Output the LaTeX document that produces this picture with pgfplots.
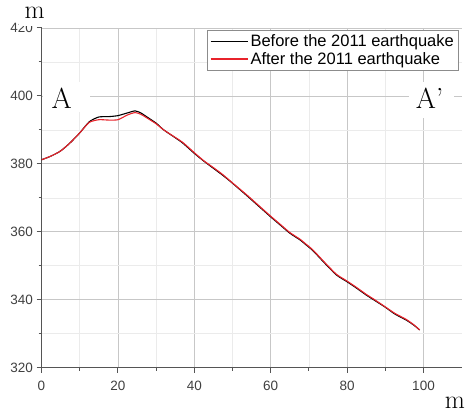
\documentclass[border=0pt]{standalone}
\usepackage{pgfplots}
\pgfplotsset{compat=1.18}
\usepackage{fontspec}
\newfontfamily\sansf{Liberation Sans}
\definecolor{spine}{HTML}{555555}
\definecolor{redline}{HTML}{E8232B}
\begin{document}
\begin{tikzpicture}
\begin{axis}[
  scale only axis,
  width=420.2pt, height=339.7pt,
  xmin=0, xmax=110, ymin=320, ymax=420,
  xtick={0,20,...,100}, ytick={320,340,...,420},
  minor x tick num=1, minor y tick num=1,
  axis x line*=bottom, axis y line*=left,
  axis line style={-, draw=spine, line width=1.3pt},
  tick align=outside,
  major tick length=5pt, minor tick length=3pt,
  every tick/.style={draw=spine, line width=1pt},
  grid=both,
  major grid style={draw=black!22, line width=0.8pt},
  minor grid style={draw=black!8, line width=0.6pt},
  /pgf/number format/assume math mode=true,
  ticklabel style={font=\sansf\fontsize{13.5}{13.5}\selectfont, text=black!75},
  xticklabel style={yshift=-5pt},
  legend style={at={(axis description cs:0.993,0.994)}, anchor=north east,
    draw=black!45, line width=0.8pt, inner sep=2.5pt,
    font=\sansf\fontsize{16.5}{16.5}\selectfont,
    nodes={inner sep=2pt}, cells={anchor=west}},
]
\addlegendimage{legend image code/.code={\draw[draw=black, line width=1.1pt] (0pt,0pt) -- (37pt,0pt);}}
\addlegendentry{Before the 2011 earthquake}
\addlegendimage{legend image code/.code={\draw[draw=redline, line width=1.6pt] (0pt,0pt) -- (37pt,0pt);}}
\addlegendentry{After the 2011 earthquake}
\addplot[forget plot, draw=black, line width=1.1pt, smooth, tension=0.4] coordinates {
(0,381.2) (2.5,382.3) (5,383.8) (7.5,386.2) (10,389.1) (12.5,392.4) (15,393.8)
(17.5,393.9) (20,394.2) (22.5,395.0) (24.5,395.6) (26,395.0) (27.5,393.9)
(30,392.0) (32,390.0) (35,387.7) (37,386.1) (40,383.1) (42.5,380.8) (45,378.7)
(47.5,376.6) (50,374.3) (53.6,370.8) (56,368.4) (60,364.4) (62.5,362.0)
(65,359.6) (67.7,357.6) (69,356.4) (71.1,354.4) (74.2,350.7) (77.2,347.3)
(80,345.3) (82.5,343.4) (85,341.4) (87.5,339.6) (90,337.8) (92.5,335.8)
(95.5,334.0) (97.5,332.5) (99,331.1)};
\addplot[forget plot, draw=redline, line width=1.1pt, smooth, tension=0.4] coordinates {
(0,381.2) (2.5,382.3) (5,383.8) (7.5,386.2) (10,389.1) (12.5,392.2) (15,393.0)
(17.5,392.9) (20,393.0) (22.5,394.4) (24.5,395.1) (26,394.6) (27.5,393.6)
(30,391.8) (32,390.0) (35,387.8) (37,386.3) (40,383.3) (42.5,380.9) (45,378.9)
(47.5,376.8) (50,374.4) (53.6,371.0) (56,368.6) (60,364.6) (62.5,362.2)
(65,359.8) (67.7,357.8) (69,356.6) (71.1,354.6) (74.2,350.9) (77.2,347.5)
(80,345.5) (82.5,343.6) (85,341.6) (87.5,339.8) (90,337.9) (92.5,336.0)
(95.5,334.2) (97.5,332.6) (99,331.1)};
\fill[white] (axis cs:0.4,395.3) rectangle (axis cs:12.7,404.1);
\node[font=\fontsize{29}{29}\selectfont] at (axis cs:5.3,399.3) {A};
\fill[white] (axis cs:96.3,393.5) rectangle (axis cs:108,404.1);
\node[font=\fontsize{29}{29}\selectfont] at (axis cs:101.6,399.3) {A'};
\end{axis}
\fill[white] (-22pt,341.7pt) rectangle (2pt,367.7pt);
\node[font=\fontsize{26}{26}\selectfont, anchor=base, inner sep=0pt] at (-6.8pt,349.4pt) {m};
\node[font=\fontsize{26}{26}\selectfont, anchor=base, inner sep=0pt] at (413.5pt,-40.5pt) {m};
\pgfresetboundingbox
\useasboundingbox (-41.5pt,-41.3pt) rectangle (423.5pt,367.7pt);
\end{tikzpicture}
\end{document}
